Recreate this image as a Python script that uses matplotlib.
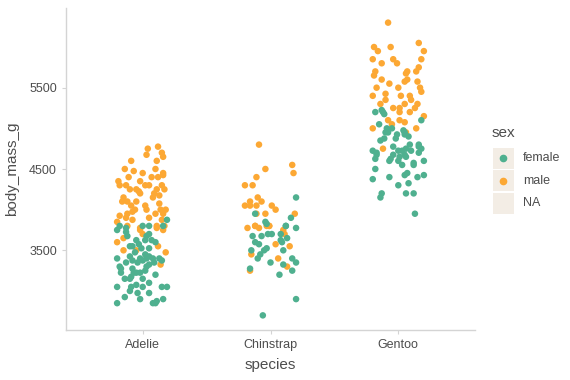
import matplotlib
matplotlib.use("Agg")
import matplotlib.pyplot as plt
from matplotlib.patches import Rectangle

plt.rcParams['font.family'] = ['Liberation Sans', 'DejaVu Sans']

species = ["Adelie", "Chinstrap", "Gentoo"]
y_ticks = [3500, 4500, 5500]

# body mass (g) and horizontal jitter (in category units)
adelie_male_g = [4750, 4775, 4675, 4700, 4650, 4600, 4600, 4500, 4475, 4450, 4450, 4400,
                 4400, 4425, 4350, 4300, 4300, 4300, 4300, 4250, 4250, 4225, 4250, 4200,
                 4200, 4150, 4150, 4100, 4100, 4050, 4075, 4000, 4000, 4000, 3950, 3975,
                 3925, 3950, 3950, 3900, 3875, 3900, 3875, 3800, 3775, 3800, 3800, 3750,
                 3700, 3775, 3750, 3600, 3650, 3500, 3500, 3550, 3475, 3325,
                 4300, 4400, 4100, 4000, 4350, 4175, 4050, 4250, 4500, 3850]
adelie_male_dx = [0.04, 0.12, 0.03, 0.15, 0.16, -0.09, 0.11, -0.14, -0.07, 0.0, 0.16, -0.11,
                  0.12, 0.16, -0.19, -0.18, -0.13, 0.05, 0.15, -0.10, -0.05, -0.03, 0.11, -0.02,
                  0.09, 0.08, -0.15, -0.16, -0.12, 0.02, 0.13, -0.06, 0.14, 0.18, -0.12, -0.08,
                  -0.18, 0.10, 0.16, -0.13, -0.08, 0.05, 0.15, -0.12, -0.02, 0.11, 0.17, -0.02,
                  0.0, 0.11, 0.16, -0.20, -0.15, -0.15, -0.05, 0.12, 0.18, 0.14,
                  0.02, 0.07, -0.05, 0.03, -0.02, 0.13, -0.09, 0.17, 0.10, -0.20]
adelie_female_g = [3800, 3775, 3800, 3800, 3800, 3875, 3750, 3725, 3700, 3625, 3600, 3400,
                   3425, 3475, 3400, 3450, 3525, 3425, 3400, 3375, 3350, 3375, 3400, 3300,
                   3275, 3275, 3300, 3325, 3375, 3225, 3225, 3225, 3200, 3175, 3150, 3150,
                   3150, 3100, 3075, 3050, 3050, 3050, 3050, 3000, 2975, 2925, 2900, 2875,
                   2900, 2850, 2850, 2850, 3575, 3625, 3550, 3675, 3675,
                   3550, 3625, 3525, 3400, 3350, 3350, 3225, 3250, 2975, 3050]
adelie_female_dx = [-0.18, -0.13, 0.0, 0.05, 0.16, 0.19, -0.20, -0.13, 0.05, 0.07, 0.10, -0.20,
                    -0.10, -0.06, -0.02, 0.02, 0.05, 0.05, 0.08, -0.08, -0.04, 0.0, 0.13, -0.18,
                    -0.17, -0.08, 0.03, 0.05, 0.15, -0.17, -0.05, -0.02, 0.10, -0.09, -0.14, -0.10,
                    0.0, 0.05, -0.05, -0.20, 0.0, 0.15, 0.19, -0.10, -0.04, -0.14, -0.02, 0.11,
                    0.16, -0.20, 0.08, 0.10, -0.03, 0.02, -0.08, -0.12, 0.03,
                    -0.10, -0.05, -0.01, 0.03, 0.09, -0.13, -0.07, 0.02, 0.05, -0.09]

chinstrap_male_g = [4800, 4550, 4450, 4500, 4400, 4300, 4300, 4150, 4100, 4050, 4050, 4050,
                    4100, 4050, 4000, 3950, 3950, 3950, 3800, 3800, 3775, 3800, 3775, 3800,
                    3800, 3750, 3700, 3575, 3550, 3450, 3400, 3300, 3250]
chinstrap_male_dx = [-0.09, 0.17, 0.18, -0.04, -0.11, -0.20, -0.14, -0.10, -0.16, -0.20, -0.16, -0.11,
                     -0.07, 0.01, 0.04, -0.11, -0.04, 0.19, -0.12, -0.01, -0.18, -0.12, -0.09, -0.03,
                     -0.01, 0.10, 0.11, 0.04, 0.15, -0.15, 0.06, 0.13, -0.16]
chinstrap_female_g = [4150, 3900, 3950, 3850, 3800, 3825, 3800, 3775, 3675, 3675, 3700, 3700,
                      3700, 3625, 3650, 3600, 3575, 3600, 3500, 3500, 3525, 3500, 3450, 3400,
                      3350, 3400, 3350, 3325, 3275, 3250, 3200, 2900, 2700]
chinstrap_female_dx = [0.20, 0.16, -0.12, -0.04, 0.12, -0.03, 0.12, 0.20, -0.14, -0.07, -0.02, 0.01,
                       0.08, 0.08, 0.13, -0.12, -0.09, 0.09, -0.15, -0.05, -0.03, 0.10, -0.08, -0.10,
                       0.0, 0.17, 0.20, 0.10, -0.16, 0.17, 0.07, 0.20, -0.06]

gentoo_male_g = [6300, 6050, 6000, 6000, 5950, 5950, 5850, 5800, 5850, 5800, 5850, 5750,
                 5700, 5650, 5700, 5700, 5675, 5600, 5575, 5600, 5550, 5575, 5500, 5500,
                 5500, 5450, 5425, 5350, 5400, 5400, 5400, 5350, 5300, 5300, 5250, 5250,
                 5250, 5300, 5200, 5200, 5100, 5050, 5100, 5075, 5150, 5000, 5000, 4950,
                 4750]
gentoo_male_dx = [-0.08, 0.16, -0.19, -0.06, -0.16, 0.20, -0.20, -0.13, -0.04, -0.01, 0.18, 0.16,
                  -0.18, -0.19, 0.07, 0.14, 0.06, 0.07, 0.05, -0.13, -0.07, 0.15, 0.17, -0.17,
                  0.0, 0.18, -0.10, -0.10, -0.20, 0.02, 0.09, 0.10, 0.15, -0.14, -0.04, 0.01,
                  0.13, 0.05, 0.01, 0.09, -0.08, -0.05, 0.01, 0.05, 0.20, -0.20, 0.14, 0.06,
                  -0.12]
gentoo_female_g = [5200, 5200, 5100, 5050, 5000, 4950, 5000, 4975, 4925, 4900, 4875, 4850,
                   4875, 4800, 4750, 4750, 4725, 4725, 4700, 4725, 4675, 4625, 4650, 4650,
                   4625, 4600, 4550, 4575, 4600, 4500, 4400, 4425, 4450, 4400, 4425, 4375,
                   4325, 4300, 4200, 4200, 4200, 4150, 3950, 5225,
                   5175, 4950, 4925, 4950, 4775, 4675, 4775, 4725, 4675, 4800, 4600, 4550, 4700]
gentoo_female_dx = [-0.18, -0.12, 0.18, -0.15, -0.09, -0.10, -0.05, 0.04, 0.05, 0.08, -0.02, -0.14,
                    -0.11, 0.16, 0.18, 0.06, 0.10, -0.20, -0.17, 0.0, -0.04, -0.06, 0.01, 0.06,
                    -0.18, -0.07, 0.03, 0.12, 0.20, -0.18, -0.07, 0.05, 0.07, 0.15, 0.20, -0.20,
                    0.08, 0.0, 0.06, 0.12, -0.13, -0.14, 0.13, -0.13,
                    -0.11, -0.08, -0.01, 0.05, 0.16, -0.17, -0.04, 0.03, 0.05, 0.09, 0.0, 0.12, 0.16]

female_color = "#4fb08f"
male_color = "#fca834"
axis_grey = "#d4d4d4"
text_grey = "#4d4d4d"

female = [(0, adelie_female_g, adelie_female_dx),
          (1, chinstrap_female_g, chinstrap_female_dx),
          (2, gentoo_female_g, gentoo_female_dx)]
male = [(0, adelie_male_g, adelie_male_dx),
        (1, chinstrap_male_g, chinstrap_male_dx),
        (2, gentoo_male_g, gentoo_male_dx)]

fig = plt.figure(figsize=(5.7, 3.8), dpi=100)
ax = fig.add_axes([66 / 570, 50 / 380, 409 / 570, 322 / 380])

for groups, color in ((male, male_color), (female, female_color)):
    for i, g, dx in groups:
        ax.scatter([i + d for d in dx], g, s=22, color=color, edgecolors="none", zorder=3)

ax.set_xlim(-0.6, 2.6)
ax.set_ylim(2520, 6480)
ax.set_xticks(range(len(species)))
ax.set_xticklabels(species)
ax.set_yticks(y_ticks)
ax.tick_params(colors=axis_grey, labelcolor=text_grey, labelsize=9, length=3, width=0.8)
for side in ("top", "right"):
    ax.spines[side].set_visible(False)
for side in ("left", "bottom"):
    ax.spines[side].set_color(axis_grey)
    ax.spines[side].set_linewidth(1.0)
ax.set_xlabel("species", fontsize=11, color=text_grey, labelpad=5)
ax.set_ylabel("body_mass_g", fontsize=11, color=text_grey, labelpad=7)

# legend drawn by hand so the keys get the beige fill
key_bg = "#f3ede5"
fig.text(492 / 570, 1 - 133 / 380, "sex", fontsize=11, color=text_grey, va="center")
labels = ["female", "male", "NA"]
colors = [female_color, male_color, None]
for k, (lab, col) in enumerate(zip(labels, colors)):
    top = 147.5 + k * 22.5
    fig.patches.append(Rectangle((492.5 / 570, 1 - (top + 21) / 380), 21 / 570, 21 / 380,
                                 transform=fig.transFigure, facecolor=key_bg,
                                 edgecolor="none"))
    cy = 1 - (top + 10.5) / 380
    if col:
        fig.add_artist(plt.Line2D([503 / 570], [cy], marker="o", markersize=4.5,
                                  color=col, linestyle="none", transform=fig.transFigure))
    fig.text(523 / 570, cy, lab, fontsize=9, color=text_grey, va="center")

fig.savefig("out.png", dpi=100)
